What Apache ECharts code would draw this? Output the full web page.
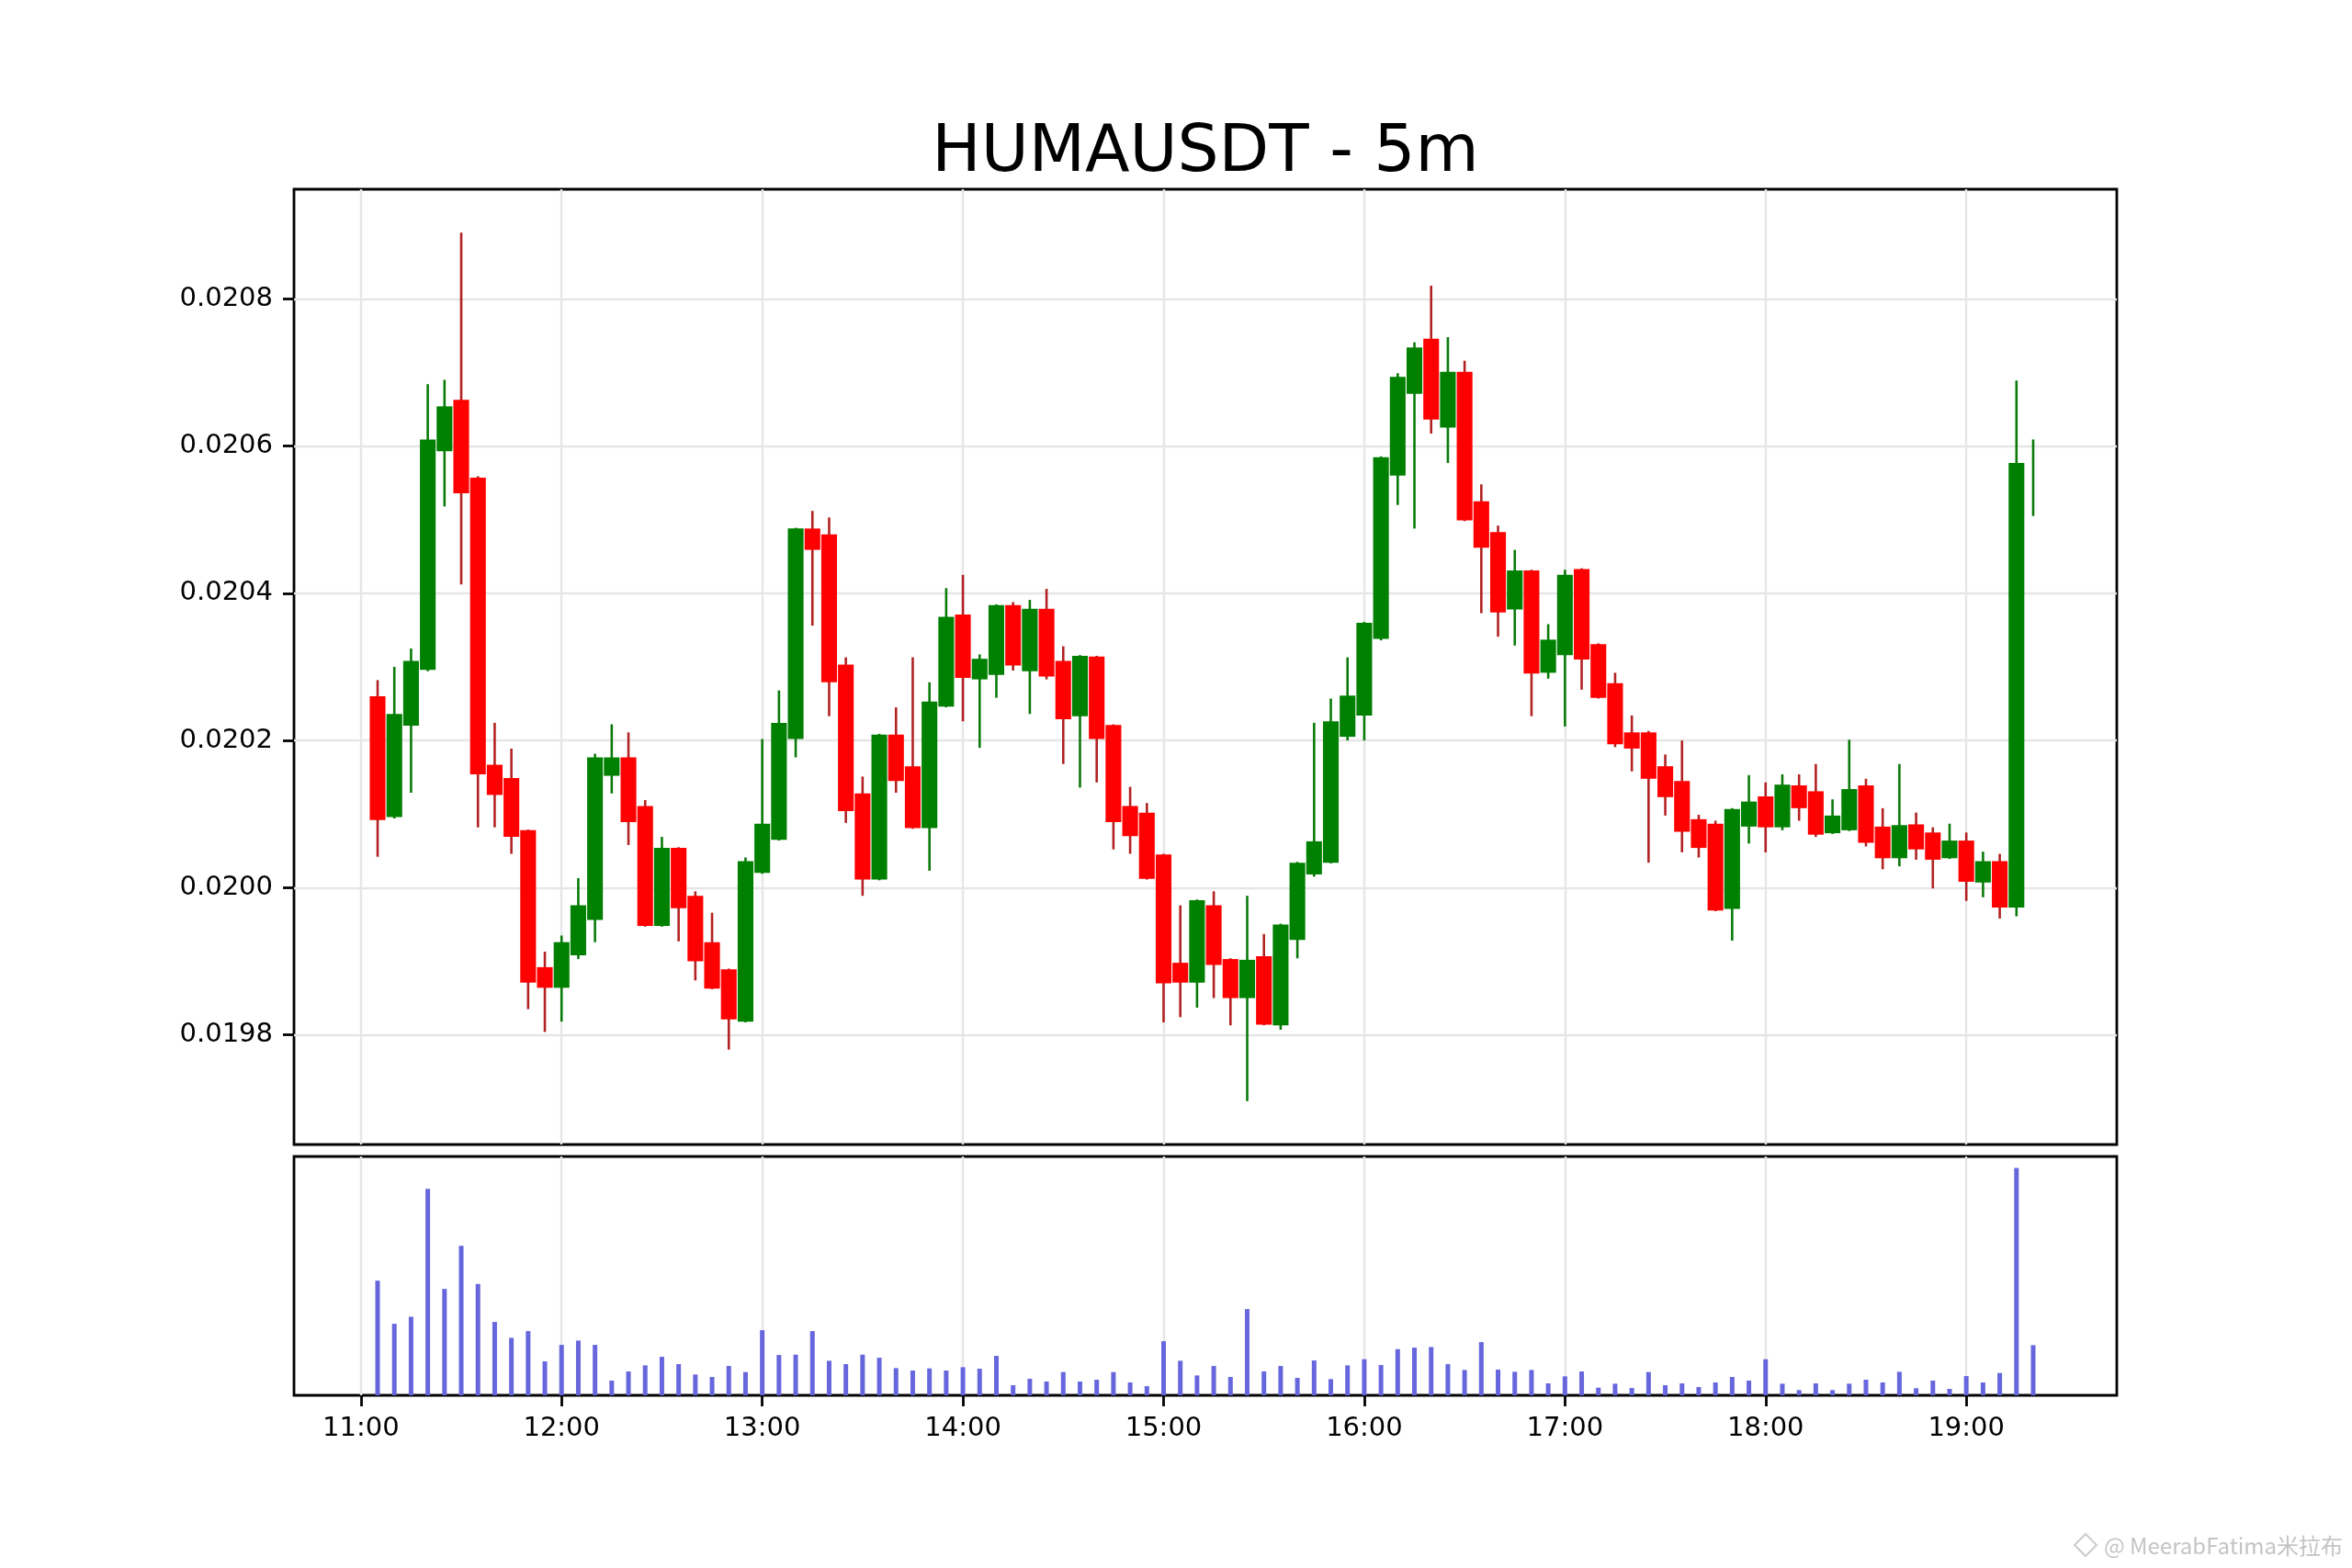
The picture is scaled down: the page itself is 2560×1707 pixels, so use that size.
<!DOCTYPE html>
<html>
<head>
<meta charset="utf-8">
<script src="https://cdn.jsdelivr.net/npm/echarts@6/dist/echarts.min.js"></script>
<style>
html,body{margin:0;padding:0;background:#fff;}
#chart{width:2560px;height:1707px;}
</style>
</head>
<body>
<div id="chart"></div>
<script>
// ---- data ----
const times = [
'11:05','11:10','11:15','11:20','11:25','11:30','11:35','11:40','11:45','11:50','11:55',
'12:00','12:05','12:10','12:15','12:20','12:25','12:30','12:35','12:40','12:45','12:50','12:55',
'13:00','13:05','13:10','13:15','13:20','13:25','13:30','13:35','13:40','13:45','13:50','13:55',
'14:00','14:05','14:10','14:15','14:20','14:25','14:30','14:35','14:40','14:45','14:50','14:55',
'15:00','15:05','15:10','15:15','15:20','15:25','15:30','15:35','15:40','15:45','15:50','15:55',
'16:00','16:05','16:10','16:15','16:20','16:25','16:30','16:35','16:40','16:45','16:50','16:55',
'17:00','17:05','17:10','17:15','17:20','17:25','17:30','17:35','17:40','17:45','17:50','17:55',
'18:00','18:05','18:10','18:15','18:20','18:25','18:30','18:35','18:40','18:45','18:50','18:55',
'19:00','19:05','19:10','19:15','19:20'
];
const padBefore = ['10:40','10:45','10:50','10:55','11:00'];
const padAfter = ['19:25','19:30','19:35','19:40','19:45'];

const opens = [
0.020260,0.020096,0.020220,0.020296,0.020593,0.020663,0.020557,0.020167,0.020149,0.020078,
0.019892,0.019864,0.019908,0.019956,0.020152,0.020177,0.020111,0.019948,0.020054,0.019989,
0.019926,0.019889,0.019818,0.020020,0.020065,0.020202,0.020488,0.020480,0.020303,0.020128,
0.020011,0.020208,0.020165,0.020081,0.020246,0.020371,0.020283,0.020289,0.020384,0.020294,
0.020379,0.020308,0.020233,0.020314,0.020221,0.020111,0.020102,0.020045,0.019898,0.019871,
0.019976,0.019903,0.019850,0.019907,0.019813,0.019929,0.020018,0.020034,0.020205,0.020234,
0.020338,0.020560,0.020671,0.020746,0.020625,0.020701,0.020525,0.020483,0.020378,0.020431,
0.020292,0.020316,0.020433,0.020331,0.020278,0.020211,0.020211,0.020165,0.020145,0.020093,
0.020087,0.019971,0.020083,0.020124,0.020082,0.020139,0.020131,0.020074,0.020078,0.020139,
0.020083,0.020040,0.020086,0.020075,0.020040,0.020064,0.020007,0.020036,0.019973,0.020577
];
const highs = [
0.020282,0.020300,0.020325,0.020684,0.020690,0.020890,0.020559,0.020224,0.020189,0.020079,
0.019913,0.019935,0.020013,0.020182,0.020222,0.020211,0.020119,0.020069,0.020055,0.019995,
0.019966,0.019890,0.020041,0.020202,0.020268,0.020489,0.020512,0.020503,0.020313,0.020151,
0.020209,0.020245,0.020313,0.020279,0.020407,0.020425,0.020317,0.020385,0.020388,0.020391,
0.020406,0.020328,0.020316,0.020315,0.020222,0.020137,0.020115,0.020046,0.019976,0.019984,
0.019995,0.019904,0.019989,0.019937,0.019951,0.020035,0.020224,0.020257,0.020313,0.020361,
0.020586,0.020699,0.020741,0.020818,0.020748,0.020716,0.020548,0.020492,0.020459,0.020432,
0.020358,0.020432,0.020434,0.020332,0.020292,0.020234,0.020213,0.020181,0.020200,0.020099,
0.020091,0.020108,0.020153,0.020143,0.020154,0.020154,0.020168,0.020120,0.020201,0.020148,
0.020108,0.020168,0.020102,0.020082,0.020087,0.020075,0.020049,0.020046,0.020689,0.020609
];
const lows = [
0.020042,0.020094,0.020129,0.020294,0.020518,0.020412,0.020082,0.020082,0.020046,0.019835,
0.019804,0.019818,0.019903,0.019926,0.020128,0.020058,0.019947,0.019947,0.019927,0.019874,
0.019862,0.019780,0.019817,0.020019,0.020064,0.020177,0.020356,0.020233,0.020088,0.019989,
0.020010,0.020129,0.020080,0.020023,0.020245,0.020226,0.020190,0.020258,0.020295,0.020236,
0.020283,0.020168,0.020136,0.020143,0.020052,0.020046,0.020011,0.019817,0.019824,0.019837,
0.019850,0.019813,0.019710,0.019813,0.019807,0.019904,0.020015,0.020033,0.020200,0.020200,
0.020336,0.020520,0.020488,0.020617,0.020577,0.020498,0.020373,0.020341,0.020329,0.020233,
0.020284,0.020219,0.020269,0.020257,0.020191,0.020158,0.020034,0.020098,0.020048,0.020041,
0.019968,0.019928,0.020060,0.020048,0.020078,0.020091,0.020069,0.020073,0.020077,0.020056,
0.020025,0.020029,0.020038,0.019999,0.020039,0.019982,0.019987,0.019958,0.019961,0.020505
];
const closes = [
0.020092,0.020236,0.020308,0.020609,0.020654,0.020536,0.020154,0.020126,0.020069,0.019871,
0.019864,0.019926,0.019976,0.020177,0.020177,0.020089,0.019948,0.020054,0.019972,0.019900,
0.019863,0.019821,0.020036,0.020087,0.020224,0.020488,0.020459,0.020279,0.020104,0.020011,
0.020208,0.020145,0.020081,0.020253,0.020368,0.020285,0.020311,0.020384,0.020302,0.020379,
0.020287,0.020229,0.020315,0.020202,0.020089,0.020070,0.020012,0.019870,0.019871,0.019983,
0.019895,0.019850,0.019902,0.019814,0.019950,0.020034,0.020063,0.020226,0.020261,0.020360,
0.020585,0.020694,0.020734,0.020636,0.020701,0.020499,0.020462,0.020374,0.020431,0.020291,
0.020337,0.020425,0.020310,0.020258,0.020195,0.020189,0.020148,0.020123,0.020076,0.020054,
0.019969,0.020107,0.020117,0.020082,0.020140,0.020108,0.020072,0.020098,0.020134,0.020061,
0.020040,0.020085,0.020052,0.020038,0.020064,0.020008,0.020036,0.019973,0.020577,0.020577
];
const volumes = [
375,234,257,675,348,489,364,240,188,210,
111,165,179,165,48,78,98,126,102,68,
60,96,76,213,132,133,210,113,102,133,
123,89,81,88,81,92,87,129,33,54,
45,76,45,51,76,42,30,177,113,65,
96,60,282,78,96,57,114,53,98,118,
99,151,156,158,102,83,174,84,77,83,
39,62,78,25,38,24,76,33,39,27,
42,60,48,118,38,17,39,17,38,51,
42,77,23,48,21,63,42,73,744,164
];
const hourLabels = ['11:00','12:00','13:00','14:00','15:00','16:00','17:00','18:00','19:00'];
const priceTicks = [0.0198,0.0200,0.0202,0.0204,0.0206,0.0208];
const titleText = 'HUMAUSDT - 5m';

// ---- styles ----
const FONT = 'DejaVu Sans';
const bodyUp = '#008000', bodyDown = '#ff0000';
const wickUp = '#0a7a0a', wickDown = '#b22222';
const gridColor = '#e6e6e6';

// ---- build ----
const categories = padBefore.concat(times, padAfter);
const offset = padBefore.length;
const candleData = times.map((t, i) => [i + offset, opens[i], closes[i], lows[i], highs[i]]);
const volData = times.map((t, i) => [i + offset, volumes[i]]);
const lo = Math.min.apply(null, lows), hi = Math.max.apply(null, highs);
const yPad = (hi - lo) * 0.05;
const volMax = Math.max.apply(null, volumes) * 1.05;
const isHour = (idx, val) => hourLabels.indexOf(val) >= 0;

function renderCandle(params, api) {
  const idx = api.value(0);
  const o = api.value(1), c = api.value(2), l = api.value(3), h = api.value(4);
  const pO = api.coord([idx, o]), pC = api.coord([idx, c]);
  const pL = api.coord([idx, l]), pH = api.coord([idx, h]);
  const w = api.size([1, 0])[0] * 0.94;
  const up = c >= o;
  const top = Math.min(pO[1], pC[1]), bot = Math.max(pO[1], pC[1]);
  return {
    type: 'group',
    children: [
      { type: 'line', shape: { x1: pH[0], y1: pH[1], x2: pL[0], y2: pL[1] },
        style: { stroke: up ? wickUp : wickDown, lineWidth: 2.6 } },
      { type: 'rect', shape: { x: pO[0] - w / 2, y: top, width: w, height: bot - top },
        style: { fill: up ? bodyUp : bodyDown } }
    ]
  };
}

const chart = echarts.init(document.getElementById('chart'), null, { renderer: 'canvas' });
const tickStyle = { color: '#000', width: 2.8 };
chart.setOption({
  animation: false,
  backgroundColor: '#fff',
  grid: [
    { left: 320, right: 256, top: 206, height: 1040, show: true, borderColor: '#000', borderWidth: 2.8, backgroundColor: 'transparent' },
    { left: 320, right: 256, top: 1259, height: 260, show: true, borderColor: '#000', borderWidth: 2.8, backgroundColor: 'transparent' }
  ],
  graphic: [
    { type: 'text', x: 1312, y: 168, style: { text: titleText, fill: '#000', font: '71px "' + FONT + '"', textAlign: 'center', textVerticalAlign: 'middle' } },
    { type: 'polygon', shape: { points: [[2270, 1670], [2282, 1682], [2270, 1694], [2258, 1682]] }, style: { fill: 'none', stroke: '#cccccc', lineWidth: 2 } },
    { type: 'text', x: 2290, y: 1683, style: { text: '@ MeerabFatima米拉布', fill: '#c4c4c4', font: '24px "Noto Sans CJK SC"', textAlign: 'left', textVerticalAlign: 'middle' } }
  ],
  xAxis: [
    { type: 'category', gridIndex: 0, data: categories, boundaryGap: false,
      axisLine: { show: false },
      axisTick: { show: false },
      axisLabel: { show: false, interval: isHour },
      splitLine: { show: true, interval: isHour, lineStyle: { color: gridColor, width: 2.4 } } },
    { type: 'category', gridIndex: 1, data: categories, boundaryGap: false,
      axisLine: { show: false },
      axisTick: { show: true, interval: isHour, length: 12, inside: false, lineStyle: tickStyle },
      axisLabel: { show: true, interval: isHour, fontSize: 29, fontFamily: FONT, color: '#000', margin: 22 },
      splitLine: { show: true, interval: isHour, lineStyle: { color: gridColor, width: 2.4 } } }
  ],
  yAxis: [
    { type: 'value', gridIndex: 0, min: lo - yPad, max: hi + yPad,
      axisLine: { show: false },
      axisTick: { show: true, length: 12, inside: false, customValues: priceTicks, lineStyle: tickStyle },
      axisLabel: { show: true, customValues: priceTicks, formatter: v => v.toFixed(4), fontSize: 29, fontFamily: FONT, color: '#000', margin: 23 },
      splitLine: { show: true, lineStyle: { color: gridColor, width: 2.4 } } },
    { type: 'value', gridIndex: 1, min: 0, max: volMax,
      axisLine: { show: false }, axisTick: { show: false }, axisLabel: { show: false }, splitLine: { show: false } }
  ],
  series: [
    { type: 'custom', name: 'price', xAxisIndex: 0, yAxisIndex: 0, renderItem: renderCandle,
      encode: { x: 0, y: [1, 2, 3, 4] }, data: candleData, z: 3 },
    { type: 'bar', name: 'volume', xAxisIndex: 1, yAxisIndex: 1, data: volData, barWidth: 5,
      itemStyle: { color: '#6666dd' }, z: 3 }
  ]
});
</script>
</body>
</html>
